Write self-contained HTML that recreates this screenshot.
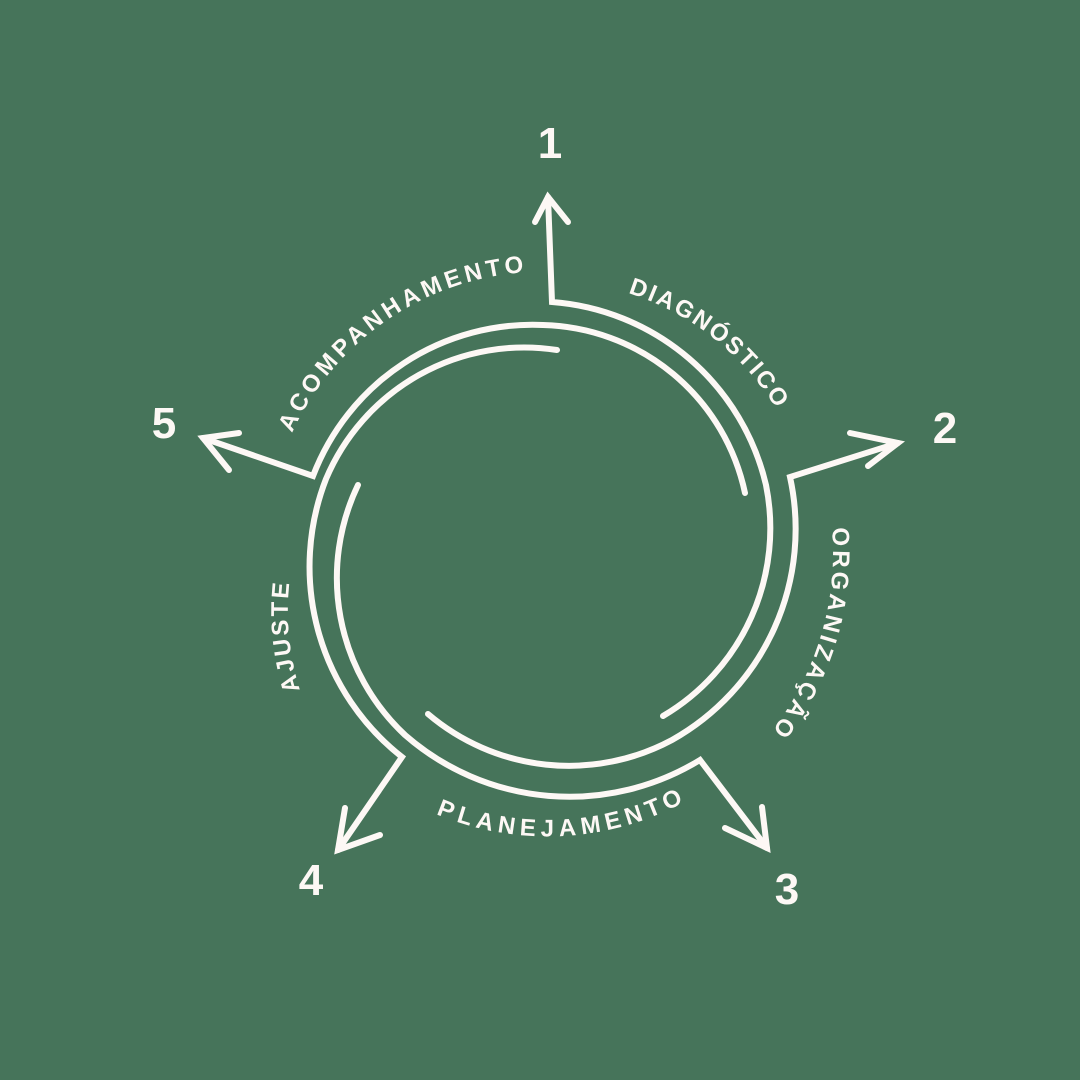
<!DOCTYPE html>
<html><head><meta charset="utf-8"><style>
html,body{margin:0;padding:0;background:#46745A;}
svg{display:block}
.n{font-family:"Liberation Sans",sans-serif;font-weight:bold;font-size:44px;fill:#FDF8F5;text-anchor:middle}
.l{font-family:"Liberation Sans",sans-serif;font-weight:bold;font-size:24px;fill:#FDF8F5}
</style></head><body>
<svg width="1080" height="1080" viewBox="0 0 1080 1080" xmlns="http://www.w3.org/2000/svg">
<rect width="1080" height="1080" fill="#46745A"/>
<defs>
<path id="pA" d="M 292,433 A 277,277 0 0 1 530,272"/>
<path id="pD" d="M 628,293 A 268,268 0 0 1 777,410"/>
<path id="pO" d="M 832,528 A 290,290 0 0 1 760,745"/>
<path id="pP" d="M 436,814 A 290,290 0 0 0 690,799"/>
<path id="pJ" d="M 300,690 A 260,260 0 0 1 290,578"/>
</defs>
<g fill="none" stroke="#FDF8F5" stroke-width="6" stroke-linecap="round" stroke-linejoin="miter">
<path d="M548,197 L552,302 A238,238 0 0 1 766,485 A218,218 0 0 1 663,716"/>
<path d="M535,222 L548,197 L568,222"/>
<path d="M898,443 L790,477 A242,242 0 0 1 672,740 A218,218 0 0 1 428,714"/>
<path d="M850,433 L898,443 L868,466"/>
<path d="M767,848 L700,760 A250,250 0 0 1 405,735 A215,215 0 0 1 358,485"/>
<path d="M725,828 L767,848 L762,807"/>
<path d="M338,850 L402,757 A242,242 0 0 1 326,479 A215,215 0 0 1 557,350"/>
<path d="M345,808 L338,850 L380,835"/>
<path d="M203,438 L313,476 A235,235 0 0 1 543,325 A212,212 0 0 1 745,493"/>
<path d="M239,433 L203,438 L229,470"/>
</g>
<text class="n" x="550" y="158">1</text>
<text class="n" x="945" y="443">2</text>
<text class="n" x="787" y="904">3</text>
<text class="n" x="311" y="895">4</text>
<text class="n" x="164" y="438">5</text>
<text class="l"><textPath href="#pA" textLength="296" lengthAdjust="spacing">ACOMPANHAMENTO</textPath></text>
<text class="l"><textPath href="#pD" textLength="192" lengthAdjust="spacing">DIAGNÓSTICO</textPath></text>
<text class="l"><textPath href="#pO" textLength="216" lengthAdjust="spacing">ORGANIZAÇÃO</textPath></text>
<text class="l"><textPath href="#pP" textLength="256" lengthAdjust="spacing">PLANEJAMENTO</textPath></text>
<text class="l"><textPath href="#pJ" textLength="108" lengthAdjust="spacing">AJUSTE</textPath></text>
</svg>
</body></html>
